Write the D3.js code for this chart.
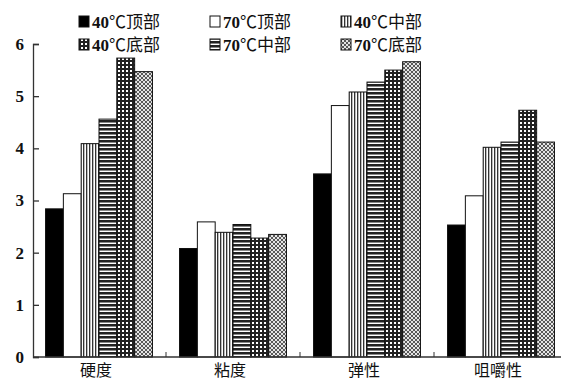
<!DOCTYPE html>
<html>
<head>
<meta charset="utf-8">
<script src="https://cdn.jsdelivr.net/npm/d3@7"></script>
<style>
  html, body { margin: 0; padding: 0; background: #fff; }
  svg { display: block; }
  text { font-family: "Liberation Serif", "Noto Sans CJK SC", serif; fill: #111; }
</style>
</head>
<body>
<svg id="chart" width="561" height="380"></svg>
<script>
// Texture indicators (categories along the x axis)
const categories = ["硬度", "粘度", "弹性", "咀嚼性"];

// Sample positions / drying temperatures, in bar order within each group
const seriesNames = ["40℃顶部", "70℃顶部", "40℃中部", "70℃中部", "40℃底部", "70℃底部"];

// Values per series, one per category
const v40Top    = [2.84, 2.08, 3.51, 2.53];
const v70Top    = [3.13, 2.59, 4.82, 3.09];
const v40Mid    = [4.09, 2.39, 5.08, 4.02];
const v70Mid    = [4.56, 2.54, 5.27, 4.12];
const v40Bottom = [5.73, 2.28, 5.50, 4.73];
const v70Bottom = [5.47, 2.35, 5.66, 4.12];
const seriesValues = [v40Top, v70Top, v40Mid, v70Mid, v40Bottom, v70Bottom];

// Legend layout order (two rows of three)
const legendOrder = ["40℃顶部", "70℃顶部", "40℃中部", "40℃底部", "70℃中部", "70℃底部"];

const yTicks = [0, 1, 2, 3, 4, 5, 6];

const svg = d3.select("#chart");
const axisLeftX = 33, axisBottomY = 357, plotTopY = 44;

// Fill patterns
const defs = svg.append("defs");
function pattern(id, w, h, draw) {
  const p = defs.append("pattern").attr("id", id)
    .attr("patternUnits", "userSpaceOnUse").attr("width", w).attr("height", h);
  p.append("rect").attr("width", w).attr("height", h).attr("fill", "#fff");
  draw(p);
}
pattern("pVert", 3, 3, p => {
  p.append("rect").attr("x", 0).attr("y", 0).attr("width", 1).attr("height", 3).attr("fill", "#333");
  p.append("rect").attr("x", 1).attr("y", 0).attr("width", 1).attr("height", 3).attr("fill", "#bbb");
});
pattern("pHoriz", 3, 4, p => {
  p.append("rect").attr("x", 0).attr("y", 0).attr("width", 3).attr("height", 2).attr("fill", "#222");
  p.append("rect").attr("x", 0).attr("y", 2).attr("width", 3).attr("height", 1).attr("fill", "#888");
});
pattern("pGrid", 4, 4, p => {
  p.append("rect").attr("x", 0).attr("y", 0).attr("width", 4).attr("height", 2).attr("fill", "#222");
  p.append("rect").attr("x", 0).attr("y", 0).attr("width", 2).attr("height", 4).attr("fill", "#222");
});
pattern("pDiag", 4, 4, p => {
  p.append("path").attr("d", "M0,0 L4,4 M4,0 L0,4").attr("stroke", "#444").attr("stroke-width", 1);
  p.append("rect").attr("width", 4).attr("height", 4).attr("fill", "#999").attr("opacity", 0.25);
});

const fills = {
  "40℃顶部": "#000",
  "70℃顶部": "#fff",
  "40℃中部": "url(#pVert)",
  "70℃中部": "url(#pHoriz)",
  "40℃底部": "url(#pGrid)",
  "70℃底部": "url(#pDiag)"
};

// Scales
const x0 = d3.scaleBand().domain(categories).range([32, 568]).paddingInner(0).paddingOuter(0);
const x1 = d3.scaleBand().domain(seriesNames).range([0, x0.bandwidth()]).paddingInner(0).paddingOuter(0.76);
const y = d3.scaleLinear().domain([0, 6]).range([axisBottomY, plotTopY]);

// Bars
const groups = svg.append("g").selectAll("g").data(categories).join("g")
  .attr("transform", d => `translate(${x0(d)},0)`);
groups.selectAll("rect")
  .data((c, ci) => seriesNames.map((s, si) => ({ s, v: seriesValues[si][ci] })))
  .join("rect")
  .attr("x", d => x1(d.s))
  .attr("y", d => y(d.v))
  .attr("width", x1.bandwidth())
  .attr("height", d => y(0) - y(d.v))
  .attr("fill", d => fills[d.s])
  .attr("stroke", "#111")
  .attr("stroke-width", 1);

// Y axis
const yAxis = svg.append("g").attr("transform", `translate(${axisLeftX},0)`)
  .call(d3.axisLeft(y).tickValues(yTicks).tickFormat(d3.format("d")).tickSizeInner(-6).tickSizeOuter(-6).tickPadding(9));
yAxis.selectAll("text").attr("font-size", 17).attr("font-weight", "bold")
  .attr("font-family", "Liberation Serif, serif").attr("fill", "#111");
yAxis.selectAll("line, path").attr("stroke", "#333").attr("stroke-width", 1.3);

// X axis
const xAxis = svg.append("g").attr("transform", `translate(0,${axisBottomY})`);
xAxis.append("line").attr("x1", axisLeftX).attr("x2", 561).attr("y1", 0).attr("y2", 0)
  .attr("stroke", "#333").attr("stroke-width", 1.3);
xAxis.selectAll("line.tick").data(categories.slice(1)).join("line").attr("class", "tick")
  .attr("x1", d => x0(d)).attr("x2", d => x0(d)).attr("y1", 0).attr("y2", -5)
  .attr("stroke", "#333").attr("stroke-width", 1);
xAxis.selectAll("text").data(categories).join("text")
  .attr("x", d => x0(d) + x0.bandwidth() / 2 - 3)
  .attr("y", 19)
  .attr("text-anchor", "middle")
  .attr("font-size", 16)
  .attr("font-family", "Noto Sans CJK SC, sans-serif")
  .text(d => d);

// Legend
const legendCols = [79, 210, 341];
const legendRows = [22, 45];
const legend = svg.append("g").selectAll("g").data(legendOrder).join("g")
  .attr("transform", (d, i) => `translate(${legendCols[i % 3]},${legendRows[Math.floor(i / 3)]})`);
legend.append("rect").attr("x", 0).attr("y", -6).attr("width", 10).attr("height", 11)
  .attr("fill", d => fills[d]).attr("stroke", "#111").attr("stroke-width", 1);
const legendText = legend.append("text").attr("x", 13).attr("y", 6).attr("font-size", 17);
// Temperature digits in bold, the rest in regular weight
legendText.append("tspan").attr("font-weight", "bold").text(d => d.slice(0, 2));
legendText.append("tspan").text(d => d.slice(2));
</script>
</body>
</html>
